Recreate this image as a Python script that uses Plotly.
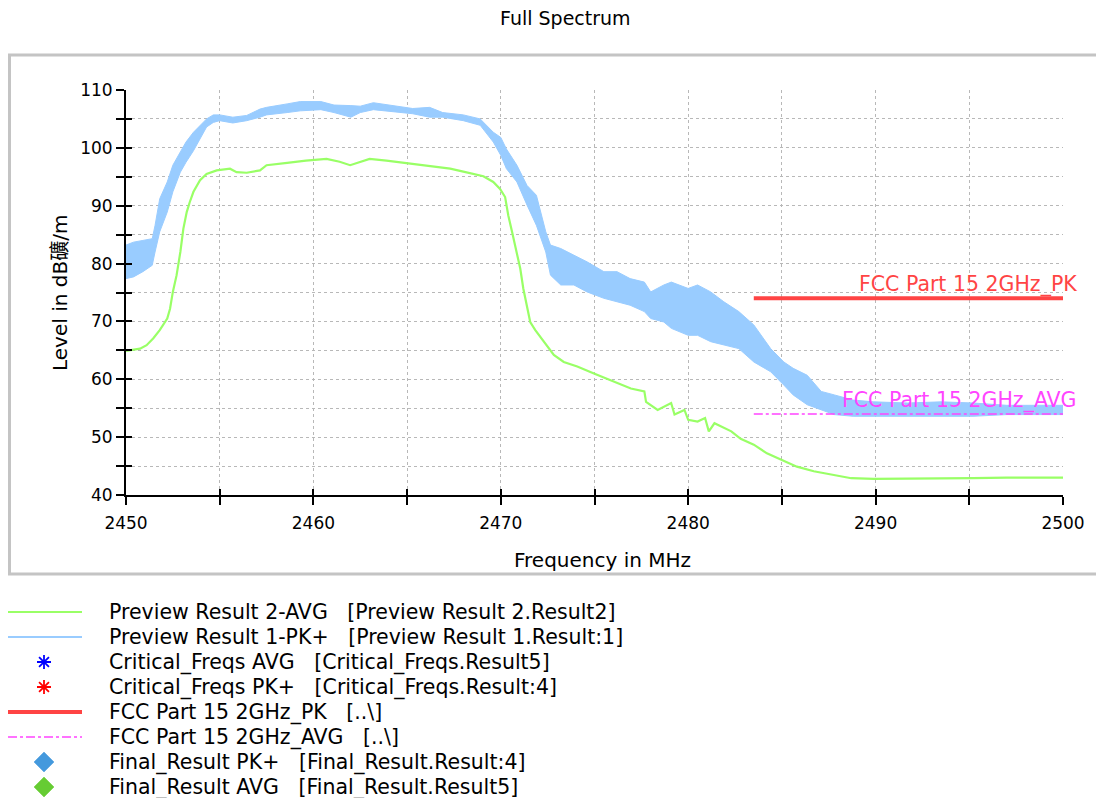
import plotly.graph_objects as go

# ---------------- data ----------------
avg_freq = [2450.0, 2450.75, 2451.1, 2451.46, 2451.8, 2452.2, 2452.35, 2452.5, 2452.7, 2452.9,
            2453.06, 2453.24, 2453.4, 2453.6, 2453.95, 2454.3, 2454.84, 2455.55, 2455.9, 2456.44,
            2457.15, 2457.5, 2458.6, 2459.6, 2460.7, 2461.4, 2461.96, 2462.5, 2463.0, 2463.9,
            2464.8, 2465.7, 2466.6, 2467.3, 2468.0, 2468.5, 2469.07, 2469.6, 2469.96, 2470.23,
            2470.4, 2470.6, 2470.86, 2471.04, 2471.2, 2471.4, 2471.57, 2471.84, 2472.3, 2472.83,
            2473.36, 2474.08, 2474.97, 2476.05, 2476.94, 2477.66, 2477.75, 2478.37, 2478.73, 2479.09,
            2479.27, 2479.8, 2480.0, 2480.5, 2480.9, 2481.1, 2481.4, 2482.3, 2482.8, 2483.5,
            2484.2, 2485.0, 2485.8, 2486.7, 2487.8, 2488.7, 2489.9, 2491.7, 2493.5, 2495.2,
            2497.0, 2500.0]
avg_level = [64.9, 65.3, 65.9, 67.1, 68.5, 70.5, 72.2, 75.1, 78.0, 82.0,
             86.0, 88.9, 90.6, 92.4, 94.4, 95.5, 96.1, 96.4, 95.8, 95.7,
             96.1, 97.0, 97.4, 97.8, 98.1, 97.6, 97.0, 97.6, 98.1, 97.8,
             97.4, 97.1, 96.7, 96.4, 95.9, 95.5, 95.1, 94.1, 92.9, 91.5,
             88.3, 85.5, 82.0, 79.1, 75.7, 72.8, 69.9, 68.5, 66.5, 64.2,
             63.0, 62.2, 61.0, 59.6, 58.4, 57.9, 56.1, 54.7, 55.3, 55.9,
             53.9, 54.7, 53.0, 52.7, 53.3, 51.0, 52.4, 51.0, 49.7, 48.7,
             47.2, 46.1, 44.9, 44.1, 43.5, 42.9, 42.8, 42.8, 42.8, 42.9,
             43.0, 43.0]

pk_freq = [2450.0, 2450.4, 2450.9, 2451.4, 2451.55, 2451.8, 2452.2, 2452.5, 2452.9, 2453.2,
           2453.6, 2453.95, 2454.3, 2454.66, 2455.0, 2455.7, 2456.44, 2457.15, 2457.5, 2458.6,
           2459.3, 2460.4, 2461.1, 2462.0, 2462.5, 2463.2, 2464.3, 2465.3, 2466.2, 2466.9,
           2468.0, 2468.9, 2469.6, 2470.0, 2470.3, 2470.86, 2471.4, 2471.9, 2472.4, 2472.65,
           2473.2, 2473.9, 2474.6, 2475.5, 2476.2, 2476.9, 2477.66, 2478.0, 2478.7, 2479.1,
           2480.0, 2480.5, 2481.2, 2481.9, 2482.7, 2483.5, 2484.4, 2485.1, 2485.6, 2486.35,
           2487.1, 2487.8, 2488.8, 2489.9, 2491.7, 2493.5, 2495.2, 2497.0, 2500.0]
pk_upper = [83.2, 83.7, 84.0, 84.3, 86.6, 91.2, 94.1, 97.0, 99.3, 101.0,
            102.7, 103.9, 105.0, 105.7, 105.7, 105.3, 105.6, 106.7, 107.0, 107.6,
            108.0, 108.0, 107.4, 107.3, 107.2, 107.8, 107.3, 106.8, 107.0, 106.1,
            105.7, 105.0, 102.7, 101.8, 99.8, 97.0, 93.5, 91.8, 85.5, 83.2,
            82.6, 81.4, 80.3, 78.6, 78.6, 77.4, 76.8, 75.1, 76.3, 76.8,
            75.7, 76.3, 75.1, 73.4, 71.7, 69.4, 65.3, 63.0, 61.9, 60.7,
            57.9, 57.3, 56.4, 56.1, 55.9, 56.1, 55.9, 55.5, 55.5]
pk_lower = [77.4, 77.7, 78.6, 79.7, 82.0, 85.5, 88.9, 92.4, 95.8, 97.5,
            99.5, 101.6, 103.6, 104.4, 104.7, 104.3, 104.7, 105.3, 105.7, 106.1,
            106.4, 106.6, 106.1, 105.3, 106.1, 106.6, 106.3, 105.9, 105.3, 105.3,
            104.7, 103.9, 101.0, 98.7, 96.4, 94.1, 90.1, 86.6, 82.0, 78.0,
            76.3, 76.3, 75.1, 74.0, 73.4, 72.8, 71.7, 70.5, 69.9, 68.8,
            67.6, 67.6, 66.5, 65.9, 65.3, 63.0, 61.3, 59.0, 57.3, 55.6,
            54.7, 53.9, 53.6, 53.6, 53.6, 53.6, 53.6, 53.9, 53.9]

limit_freq = [2483.5, 2500.0]
pk_limit = [74.0, 74.0]
avg_limit = [54.0, 54.0]

x_ticks = [2450, 2455, 2460, 2465, 2470, 2475, 2480, 2485, 2490, 2495, 2500]
x_labels = ["2450", "", "2460", "", "2470", "", "2480", "", "2490", "", "2500"]
y_ticks = [40, 45, 50, 55, 60, 65, 70, 75, 80, 85, 90, 95, 100, 105, 110]
y_labels = ["40", "", "50", "", "60", "", "70", "", "80", "", "90", "", "100", "", "110"]

legend_names = [
    "Preview Result 2-AVG\u00a0\u00a0\u00a0[Preview Result 2.Result2]",
    "Preview Result 1-PK+\u00a0\u00a0\u00a0[Preview Result 1.Result:1]",
    "Critical_Freqs AVG\u00a0\u00a0\u00a0[Critical_Freqs.Result5]",
    "Critical_Freqs PK+\u00a0\u00a0\u00a0[Critical_Freqs.Result:4]",
    "FCC Part 15 2GHz_PK\u00a0\u00a0\u00a0[..\\]",
    "FCC Part 15 2GHz_AVG\u00a0\u00a0\u00a0[..\\]",
    "Final_Result PK+\u00a0\u00a0\u00a0[Final_Result.Result:4]",
    "Final_Result AVG\u00a0\u00a0\u00a0[Final_Result.Result5]",
]

# ---------------- styles ----------------
C_AVG = "#99ff66"
C_PK = "#99ccff"
C_LPK = "#ff4444"
C_LAVG = "#ff44ff"
FONT = "DejaVu Sans, Verdana, sans-serif"

# the page body has an 8 px margin, so the figure is 8 px smaller than the window
W, H = 1096, 790
L, R, T, B = 118, 1055, 82, 487
PW, PH = R - L, B - T


# helpers: convert reference-screenshot pixels into paper coordinates
def px(x):
    return (x - 8 - L) / PW


def py(y):
    return (B - (y - 8)) / PH


fig = go.Figure()

fig.add_trace(go.Scatter(x=pk_freq, y=pk_lower, mode="lines",
                         line=dict(color=C_PK, width=1), showlegend=False,
                         hoverinfo="skip"))
fig.add_trace(go.Scatter(x=pk_freq, y=pk_upper, mode="lines", fill="tonexty",
                         fillcolor=C_PK, line=dict(color=C_PK, width=1),
                         name=legend_names[1], showlegend=False))
fig.add_trace(go.Scatter(x=avg_freq, y=avg_level, mode="lines",
                         line=dict(color=C_AVG, width=2.2),
                         name=legend_names[0], showlegend=False))
fig.add_trace(go.Scatter(x=limit_freq, y=pk_limit, mode="lines",
                         line=dict(color=C_LPK, width=4),
                         name=legend_names[4], showlegend=False))
fig.add_trace(go.Scatter(x=limit_freq, y=avg_limit, mode="lines",
                         line=dict(color=C_LAVG, width=1.5, dash="dashdot"),
                         name=legend_names[5], showlegend=False))
# overlay axes used only for the inner half of the crossing tick marks
fig.add_trace(go.Scatter(x=[], y=[], xaxis="x2", yaxis="y2", showlegend=False))

grid = dict(showgrid=True, gridcolor="#b8b8b8", gridwidth=1.2, griddash="dot",
            zeroline=False, showline=True, linecolor="black", linewidth=2,
            ticks="outside", ticklen=8, tickwidth=2, tickcolor="black",
            tickfont=dict(family=FONT, size=17, color="black"))

fig.update_layout(
    width=W, height=H,
    margin=dict(l=L, r=W - R, t=T, b=H - B, pad=0),
    paper_bgcolor="white", plot_bgcolor="white",
    showlegend=False,
    font=dict(family=FONT, size=17, color="black"),
    xaxis=dict(range=[2450, 2500], tickmode="array", tickvals=x_ticks,
               ticktext=x_labels, ticklabelstandoff=4, **grid),
    yaxis=dict(range=[40, 110], tickmode="array", tickvals=y_ticks,
               ticktext=y_labels, **grid),
    xaxis2=dict(overlaying="x", range=[2450, 2500], tickmode="array",
                tickvals=x_ticks, ticks="inside", ticklen=6, tickwidth=2,
                tickcolor="black", showticklabels=False, showgrid=False,
                zeroline=False, showline=False),
    yaxis2=dict(overlaying="y", range=[40, 110], tickmode="array",
                tickvals=y_ticks, ticks="inside", ticklen=6, tickwidth=2,
                tickcolor="black", showticklabels=False, showgrid=False,
                zeroline=False, showline=False),
)

shapes = [
    # outer panel frame
    dict(type="rect", xref="paper", yref="paper", x0=px(9.5), x1=px(1120),
         y0=py(574), y1=py(55), line=dict(color="#c4c4c4", width=3),
         layer="below"),
]

annotations = [
    dict(text="Full Spectrum", xref="paper", yref="paper", x=px(565), y=py(18),
         showarrow=False, font=dict(family=FONT, size=19, color="black"),
         xanchor="center", yanchor="middle"),
    dict(text="Level in dB礦/m", xref="paper", yref="paper", x=px(60), y=py(293),
         showarrow=False, textangle=-90,
         font=dict(family=FONT + ", Noto Sans CJK SC", size=20, color="black"),
         xanchor="center", yanchor="middle"),
    dict(text="Frequency in MHz", xref="paper", yref="paper", x=px(602), y=py(560),
         showarrow=False, font=dict(family=FONT, size=20, color="black"),
         xanchor="center", yanchor="middle"),
    dict(text="FCC Part 15 2GHz_PK", xref="x", yref="y", x=limit_freq[-1], y=pk_limit[0],
         xanchor="right", yanchor="bottom", xshift=16, yshift=-1, showarrow=False,
         font=dict(family=FONT, size=20.5, color=C_LPK)),
    dict(text="FCC Part 15 2GHz_AVG", xref="x", yref="y", x=limit_freq[-1], y=avg_limit[0],
         xanchor="right", yanchor="bottom", xshift=16, yshift=-1, showarrow=False,
         font=dict(family=FONT, size=20.5, color=C_LAVG)),
]


# ---------------- manual legend below the panel ----------------
def asterisk_path(cx, cy, r):
    d = r * 0.707
    segs = [(-r, 0, r, 0), (0, -r, 0, r), (-d, -d, d, d), (-d, d, d, -d)]
    return " ".join(
        f"M{px(cx + a):.5f},{py(cy + b):.5f} L{px(cx + c):.5f},{py(cy + e):.5f}"
        for a, b, c, e in segs)


def diamond_path(cx, cy, r):
    pts = [(cx, cy - r), (cx + r, cy), (cx, cy + r), (cx - r, cy)]
    return "M" + " L".join(f"{px(a):.5f},{py(b):.5f}" for a, b in pts) + " Z"


row_y = [612, 637, 662, 687, 712, 737, 762, 787]
line_items = {0: dict(color=C_AVG, width=2),
              1: dict(color=C_PK, width=2),
              4: dict(color=C_LPK, width=4),
              5: dict(color=C_LAVG, width=1.5, dash="dashdot")}
symbol_items = {2: ("asterisk", "#0000ff"),
                3: ("asterisk", "#ff0000"),
                6: ("diamond", "#4499dd"),
                7: ("diamond", "#66cc33")}
for i, name in enumerate(legend_names):
    yy = row_y[i]
    if i in line_items:
        shapes.append(dict(type="line", xref="paper", yref="paper",
                           x0=px(8), x1=px(82), y0=py(yy), y1=py(yy),
                           line=line_items[i]))
    else:
        kind, col = symbol_items[i]
        if kind == "asterisk":
            shapes.append(dict(type="path", xref="paper", yref="paper",
                               path=asterisk_path(44, yy, 7),
                               line=dict(color=col, width=1.8)))
        else:
            shapes.append(dict(type="path", xref="paper", yref="paper",
                               path=diamond_path(44, yy, 10),
                               fillcolor=col, line=dict(color=col, width=0.5)))
    annotations.append(dict(text=name, xref="paper", yref="paper",
                            x=px(107), y=py(yy), showarrow=False,
                            xanchor="left", yanchor="middle",
                            font=dict(family=FONT, size=20.5, color="black")))

fig.update_layout(shapes=shapes, annotations=annotations)

fig.write_html("out.html")
